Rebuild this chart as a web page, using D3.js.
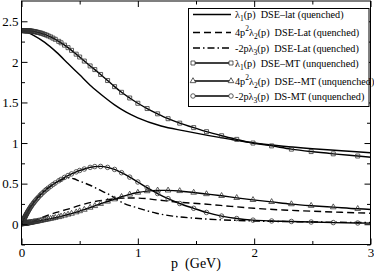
<!DOCTYPE html>
<html>
<head>
<meta charset="utf-8">
<script src="https://cdn.jsdelivr.net/npm/d3@7"></script>
<style>
  body { margin: 0; background: #fff; }
  text { font-family: "Liberation Serif", "Times New Roman", serif; fill: #000; }
</style>
</head>
<body>
<div id="chart"></div>
<script>
// ---- data ----
// lattice (quenched) curves, plain lines
var latL1P = [0, 0.05, 0.1, 0.2, 0.3, 0.4, 0.5, 0.6, 0.7, 0.8, 0.9, 1.0, 1.2, 1.4, 1.6, 1.8, 2.0, 2.25, 2.5, 2.75, 3.0];
var latL1  = [2.375, 2.365, 2.33, 2.24, 2.12, 1.98, 1.84, 1.70, 1.58, 1.47, 1.38, 1.31, 1.21, 1.15, 1.095, 1.045, 1.0, 0.96, 0.93, 0.905, 0.88];

var latL2P = [0, 0.05, 0.1, 0.15, 0.2, 0.3, 0.4, 0.5, 0.6, 0.7, 0.8, 0.9, 1.0, 1.16, 1.36, 1.56, 1.8, 2.0, 2.25, 2.5, 2.75, 3.0];
var latL2  = [0, 0.01, 0.035, 0.065, 0.095, 0.145, 0.185, 0.232, 0.27, 0.295, 0.312, 0.322, 0.322, 0.30, 0.27, 0.25, 0.22, 0.196, 0.175, 0.16, 0.147, 0.135];

var latL3P = [0, 0.025, 0.05, 0.1, 0.15, 0.2, 0.25, 0.3, 0.35, 0.4, 0.45, 0.5, 0.59, 0.66, 0.74, 0.875, 1.0, 1.16, 1.3, 1.5, 1.7, 2.0, 2.5, 3.0];
var latL3  = [0, 0.08, 0.15, 0.27, 0.35, 0.42, 0.47, 0.515, 0.55, 0.572, 0.56, 0.53, 0.48, 0.43, 0.375, 0.26, 0.2, 0.135, 0.1, 0.073, 0.055, 0.04, 0.028, 0.02];

// MT (unquenched) curves, lines with symbols, all on one momentum grid
var mtP = [0, 0.02, 0.022, 0.024, 0.026, 0.028, 0.03, 0.033, 0.036, 0.039, 0.042, 0.045, 0.049, 0.053, 0.057, 0.062, 0.067, 0.072, 0.078, 0.085, 0.09,
  0.1, 0.107, 0.115, 0.125, 0.135, 0.145, 0.16, 0.17, 0.185, 0.2, 0.215, 0.23, 0.25, 0.27, 0.29, 0.32, 0.34, 0.37,
  0.4, 0.43, 0.47, 0.5, 0.54, 0.59, 0.63, 0.68, 0.74, 0.8, 0.86, 0.93, 1.0, 1.08, 1.17, 1.26, 1.36, 1.48, 1.59, 1.72,
  1.85, 1.99, 2.15, 2.32, 2.49, 2.68, 2.89, 3.12];
var mtL1 = [2.385, 2.385, 2.385, 2.385, 2.385, 2.385, 2.385, 2.385, 2.384, 2.384, 2.384, 2.384, 2.383, 2.383, 2.382, 2.382, 2.381, 2.381, 2.380, 2.379, 2.378,
  2.376, 2.374, 2.372, 2.369, 2.366, 2.362, 2.357, 2.353, 2.346, 2.338, 2.330, 2.320, 2.308, 2.293, 2.278, 2.253, 2.235, 2.206,
  2.175, 2.142, 2.095, 2.06, 2.01, 1.95, 1.905, 1.845, 1.77, 1.695, 1.625, 1.555, 1.49, 1.425, 1.36, 1.30, 1.245, 1.19, 1.14, 1.09,
  1.045, 1.0, 0.965, 0.925, 0.895, 0.867, 0.84, 0.81];
var mtL2 = [0, 0.005, 0.005, 0.006, 0.006, 0.007, 0.008, 0.009, 0.009, 0.010, 0.011, 0.012, 0.013, 0.014, 0.015, 0.016, 0.017, 0.019, 0.020, 0.022, 0.023,
  0.026, 0.028, 0.030, 0.033, 0.035, 0.038, 0.043, 0.045, 0.050, 0.054, 0.058, 0.063, 0.068, 0.074, 0.080, 0.089, 0.097, 0.108,
  0.12, 0.131, 0.148, 0.162, 0.18, 0.205, 0.225, 0.252, 0.28, 0.308, 0.338, 0.367, 0.39, 0.408, 0.417, 0.417, 0.41, 0.39, 0.372, 0.35,
  0.325, 0.30, 0.275, 0.248, 0.228, 0.21, 0.19, 0.175];
var mtL3 = [0, 0.06, 0.066, 0.072, 0.078, 0.084, 0.09, 0.099, 0.107, 0.115, 0.123, 0.131, 0.141, 0.152, 0.162, 0.174, 0.186, 0.198, 0.211, 0.226, 0.236,
  0.255, 0.268, 0.283, 0.30, 0.316, 0.332, 0.355, 0.37, 0.39, 0.41, 0.428, 0.445, 0.467, 0.488, 0.508, 0.535, 0.552, 0.577,
  0.60, 0.62, 0.645, 0.662, 0.68, 0.70, 0.71, 0.712, 0.70, 0.675, 0.635, 0.58, 0.52, 0.45, 0.378, 0.315, 0.255, 0.196, 0.145, 0.10,
  0.07, 0.05, 0.04, 0.034, 0.027, 0.02, 0.015, 0.012];

var xTicks = [0, 1, 2, 3];
var xMinor = [0.5, 1.5, 2.5];
var yTicks = [0, 0.5, 1, 1.5, 2, 2.5];
var yMinor = [-0.25, 0.25, 0.75, 1.25, 1.75, 2.25];
var xTitle = "p  (GeV)";

// legend labels: [text, kind] pieces, kind = n / sub / sup
var legendLabels = [
  [["λ", "n"], ["1", "sub"], ["(p)  DSE–lat (quenched)", "n"]],
  [["4p", "n"], ["2", "sup"], ["λ", "n"], ["2", "sub"], ["(p)  DSE-Lat (quenched)", "n"]],
  [["-2pλ", "n"], ["3", "sub"], ["(p)  DSE-Lat (quenched)", "n"]],
  [["λ", "n"], ["1", "sub"], ["(p)  DSE–MT (unquenched)", "n"]],
  [["4p", "n"], ["2", "sup"], ["λ", "n"], ["2", "sub"], ["(p)  DSE--MT (unquenched)", "n"]],
  [["-2pλ", "n"], ["3", "sub"], ["(p)  DS-MT (unquenched)", "n"]]
];

// ---- layout ----
var margin = {top: 1, right: 3.5, bottom: 30.5, left: 21.5};
var width = 374 - margin.left - margin.right;
var height = 275 - margin.top - margin.bottom;

var svg = d3.select("#chart").append("svg")
  .attr("width", 374).attr("height", 275)
  .append("g")
  .attr("transform", "translate(" + margin.left + "," + margin.top + ")");

var x = d3.scaleLinear().domain([0, 3]).range([0, width]);
var y = d3.scaleLinear().domain([-0.25, 2.75]).range([height, 0]);

svg.append("clipPath").attr("id", "clip")
  .append("rect").attr("width", width).attr("height", height);

// series setup
var series = [
  {p: latL1P, v: latL1, dash: null, sym: null},
  {p: latL2P, v: latL2, dash: "7,4", sym: null},
  {p: latL3P, v: latL3, dash: "7,3,1.5,3", sym: null},
  {p: mtP, v: mtL1, dash: null, sym: "square"},
  {p: mtP, v: mtL2, dash: null, sym: "triangle"},
  {p: mtP, v: mtL3, dash: null, sym: "circle"}
];

var line = d3.line()
  .x(function(d) { return x(d[0]); })
  .y(function(d) { return y(d[1]); })
  .curve(d3.curveMonotoneX);

function symPath(kind) {
  if (kind == "square") return d3.symbol(d3.symbolSquare, 16)();
  if (kind == "triangle") return d3.symbol(d3.symbolTriangle, 14)();
  return d3.symbol(d3.symbolCircle, 16)();
}

var plot = svg.append("g").attr("clip-path", "url(#clip)");

series.forEach(function(s) {
  var pts = s.p.map(function(p, i) { return [p, s.v[i]]; });
  plot.append("path")
    .datum(pts)
    .attr("d", line)
    .attr("fill", "none")
    .attr("stroke", "#000")
    .attr("stroke-width", 1.4)
    .attr("stroke-dasharray", s.dash);
  if (s.sym) {
    plot.selectAll(null)
      .data(pts)
      .enter()
      .append("path")
      .attr("d", symPath(s.sym))
      .attr("transform", function(d) { return "translate(" + x(d[0]) + "," + y(d[1]) + ")"; })
      .attr("fill", "none")
      .attr("stroke", "#333")
      .attr("stroke-width", 0.8);
  }
});

// axes, ticks pointing inward on all four sides
svg.append("g")
  .attr("transform", "translate(0," + height + ")")
  .call(d3.axisBottom(x).tickValues(xTicks).tickSizeInner(-6).tickSizeOuter(0).tickPadding(3.5).tickFormat(d3.format("d")));
svg.append("g")
  .attr("transform", "translate(0," + height + ")")
  .call(d3.axisBottom(x).tickValues(xMinor).tickSizeInner(-3.5).tickSizeOuter(0).tickFormat(""));
svg.append("g")
  .call(d3.axisTop(x).tickValues(xTicks).tickSizeInner(-6).tickSizeOuter(0).tickFormat(""));
svg.append("g")
  .call(d3.axisTop(x).tickValues(xMinor).tickSizeInner(-3.5).tickSizeOuter(0).tickFormat(""));
svg.append("g")
  .call(d3.axisLeft(y).tickValues(yTicks).tickSizeInner(-6).tickSizeOuter(0).tickPadding(3).tickFormat(function(d) { return d; }));
svg.append("g")
  .call(d3.axisLeft(y).tickValues(yMinor).tickSizeInner(-3.5).tickSizeOuter(0).tickFormat(""));
svg.append("g")
  .attr("transform", "translate(" + width + ",0)")
  .call(d3.axisRight(y).tickValues(yTicks).tickSizeInner(-6).tickSizeOuter(0).tickFormat(""));
svg.append("g")
  .attr("transform", "translate(" + width + ",0)")
  .call(d3.axisRight(y).tickValues(yMinor).tickSizeInner(-3.5).tickSizeOuter(0).tickFormat(""));

svg.selectAll(".domain").remove();
svg.selectAll(".tick line").attr("stroke", "#000");
svg.selectAll(".tick text").attr("font-size", 13).attr("fill", "#000")
  .style("font-family", '"Liberation Serif", serif');

// frame
svg.append("rect")
  .attr("width", width).attr("height", height)
  .attr("fill", "none").attr("stroke", "#000").attr("stroke-width", 1);

// x title
svg.append("text")
  .attr("x", width / 2).attr("y", height + 23)
  .attr("text-anchor", "middle")
  .attr("font-size", 14)
  .style("white-space", "pre")
  .text(xTitle);

// legend
var lg = d3.select("svg").append("g");
lg.append("rect")
  .attr("x", 188.5).attr("y", 8.5).attr("width", 180.5).attr("height", 98)
  .attr("fill", "#fff").attr("stroke", "#000").attr("stroke-width", 1);

var rowBase = [18, 36, 51.5, 66.5, 84.5, 99.5];
legendLabels.forEach(function(lab, i) {
  var s = series[i];
  var ly = rowBase[i] - 3.5;
  lg.append("line")
    .attr("x1", 193).attr("x2", 231).attr("y1", ly).attr("y2", ly)
    .attr("stroke", "#000").attr("stroke-width", 1.4)
    .attr("stroke-dasharray", s.dash);
  if (s.sym) {
    [193, 231].forEach(function(px) {
      lg.append("path").attr("d", symPath(s.sym))
        .attr("transform", "translate(" + px + "," + ly + ")")
        .attr("fill", "#fff").attr("stroke", "#333").attr("stroke-width", 0.8);
    });
  }
  var t = lg.append("text")
    .attr("x", 235).attr("y", rowBase[i])
    .attr("font-size", 10.2)
    .style("white-space", "pre");
  var shift = 0;
  lab.forEach(function(piece) {
    var want = piece[1] == "sub" ? 3 : (piece[1] == "sup" ? -5 : 0);
    var ts = t.append("tspan").attr("dy", want - shift).text(piece[0]);
    if (piece[1] != "n") ts.attr("font-size", 7.5);
    shift = want;
  });
});
</script>
</body>
</html>
